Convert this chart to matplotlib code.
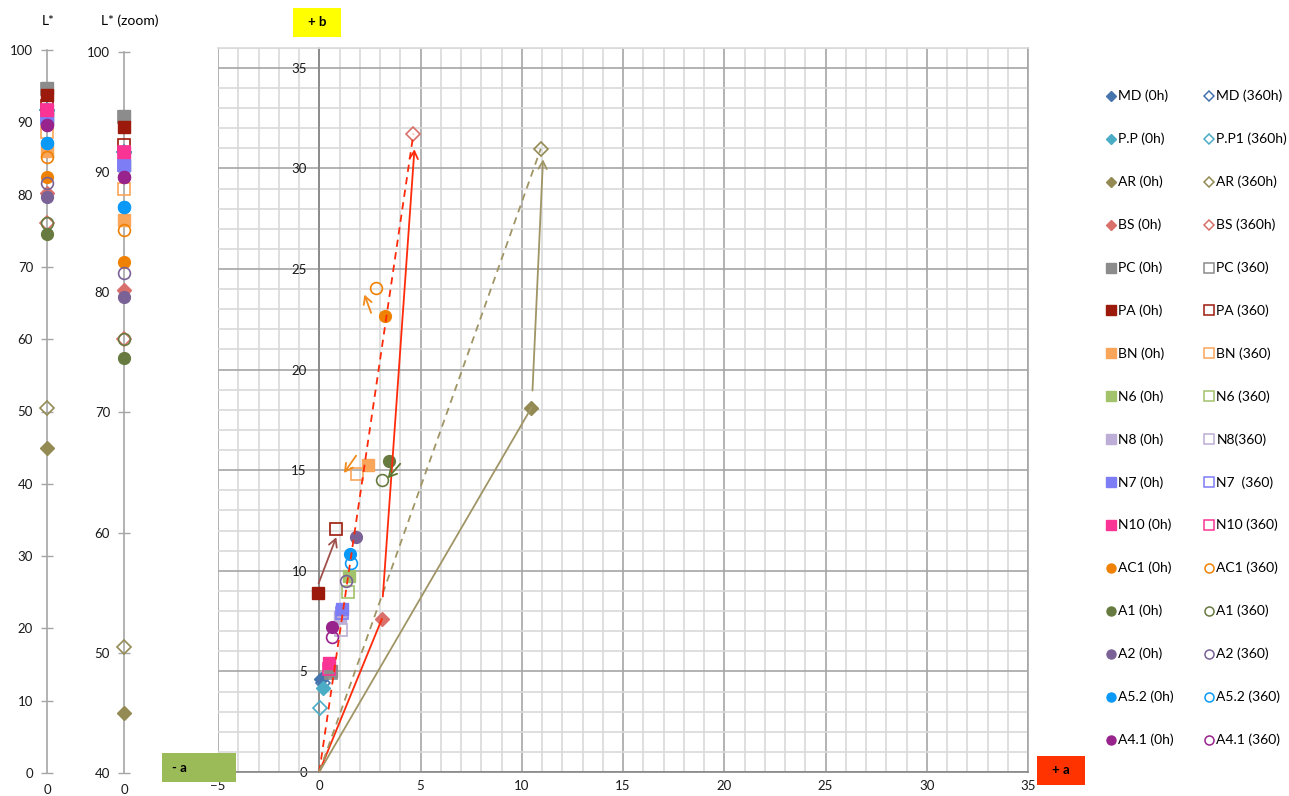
import matplotlib.pyplot as plt
from matplotlib.patches import Rectangle
from matplotlib.ticker import MultipleLocator

plt.rcParams['font.family'] = ['Lato', 'DejaVu Sans']

# sample series: a*, b*, L* at 0h and after 360h
labels_0h = ['MD (0h)', 'P.P (0h)', 'AR (0h)', 'BS (0h)', 'PC (0h)', 'PA (0h)', 'BN (0h)', 'N6 (0h)',
             'N8 (0h)', 'N7 (0h)', 'N10 (0h)', 'AC1 (0h)', 'A1 (0h)', 'A2 (0h)', 'A5.2 (0h)', 'A4.1 (0h)']
labels_360 = ['MD (360h)', 'P.P1 (360h)', 'AR (360h)', 'BS (360h)', 'PC (360)', 'PA (360)', 'BN (360)', 'N6 (360)',
              'N8(360)', 'N7  (360)', 'N10 (360)', 'AC1 (360)', 'A1 (360)', 'A2 (360)', 'A5.2 (360)', 'A4.1 (360)']
markers = ['D', 'D', 'D', 'D', 's', 's', 's', 's', 's', 's', 's', 'o', 'o', 'o', 'o', 'o']
colors = ['#4675AE', '#4BACC6', '#948A54', '#D9706B', '#8C8C8C', '#9C1A0B', '#F9A55A', '#A2C26B',
          '#BCAED6', '#7D7DF5', '#FA3494', '#EF8105', '#677A3F', '#7B6296', '#0B99F7', '#98238C']

a_0h = [0.10, 0.18, 10.48, 3.09, 0.60, -0.07, 2.43, 1.46, 1.00, 1.12, 0.50, 3.25, 3.46, 1.82, 1.54, 0.62]
b_0h = [4.60, 4.16, 18.11, 7.60, 5.00, 8.92, 15.27, 9.75, 7.70, 8.10, 5.40, 22.65, 15.44, 11.70, 10.85, 7.20]
a_360 = [0.20, 0.05, 10.94, 4.65, 0.60, 0.84, 1.87, 1.41, 1.05, 1.10, 0.50, 2.79, 3.10, 1.33, 1.58, 0.62]
b_360 = [4.40, 3.18, 30.98, 31.72, 4.90, 12.07, 14.79, 8.97, 7.05, 7.90, 5.10, 24.06, 14.53, 9.47, 10.40, 6.70]
L_0h = [91.7, 91.7, 45.0, 80.2, 94.7, 93.8, 86.0, 90.6, 90.6, 90.6, 91.7, 82.5, 74.5, 79.6, 87.1, 89.6]
L_360 = [91.7, 91.7, 50.5, 76.1, 94.6, 92.3, 88.6, 90.6, 90.6, 90.6, 91.7, 85.2, 76.1, 81.6, 87.1, 89.6]

# hand drawn shift arrows: (start, end, colour)
shift_arrows = [
    ((3.14, 8.72), (4.70, 30.95), '#FF2A0A'),
    ((10.53, 18.96), (11.05, 30.45), '#A09565'),
    ((-0.03, 9.38), (0.84, 11.67), '#A0504A'),
    ((2.56, 22.82), (2.23, 23.73), '#F08A1C'),
    ((1.82, 15.72), (1.22, 14.86), '#F08A1C'),
    ((4.00, 15.32), (3.38, 14.60), '#5E7A30'),
]

W, H = 1289, 796
fig = plt.figure(figsize=(W / 100, H / 100), dpi=100)


def draw_series(ax, xs0, ys0, xs1, ys1, ms):
    for i in range(len(labels_0h)):
        m, c = markers[i], colors[i]
        s = ms * 0.8 if m == 'D' else ms
        ax.plot(xs0[i], ys0[i], m, color=c, ms=s, mec=c, zorder=3, clip_on=False)
        ax.plot(xs1[i], ys1[i], m, mfc='none', mec=c, ms=s, mew=1.2, zorder=3, clip_on=False)


def strip(left_px, bottom_px, top_px, lo, hi):
    ax = fig.add_axes([(left_px - 12) / W, 1 - bottom_px / H, 24 / W, (bottom_px - top_px) / H])
    ax.set_xlim(-1, 1)
    ax.set_ylim(lo, hi)
    for s in ['top', 'right', 'bottom']:
        ax.spines[s].set_visible(False)
    ax.spines['left'].set_position(('data', 0))
    ax.spines['left'].set_color('#A6A6A6')
    ax.spines['left'].set_linewidth(1.2)
    ax.yaxis.set_major_locator(MultipleLocator(10))
    ax.tick_params(axis='y', direction='inout', length=8, color='#A6A6A6', width=1.0,
                   labelsize=9.5, pad=6, labelcolor='#1A1A1A')
    ax.set_xticks([0])
    ax.set_xticklabels(['0'])
    ax.tick_params(axis='x', length=0, labelsize=9.5, pad=8, labelcolor='#1A1A1A')
    ax.patch.set_alpha(0)
    draw_series(ax, [0] * 16, L_0h, [0] * 16, L_360, 8.5)
    return ax


strip(47, 773, 50, 0, 100)
strip(124, 773, 52, 40, 100)

# main a*-b* plane
ax = fig.add_axes([218 / W, 1 - 772 / H, 810 / W, (772 - 47.7) / H])
ax.set_xlim(-5, 35)
ax.set_ylim(0, 36)
ax.xaxis.set_major_locator(MultipleLocator(5))
ax.xaxis.set_minor_locator(MultipleLocator(1))
ax.set_yticks(range(0, 36, 5))
ax.yaxis.set_minor_locator(MultipleLocator(1))
ax.grid(which='minor', color='#D9D9D9', lw=1.2, zorder=0)
ax.grid(which='major', color='#A6A6A6', lw=1.2, zorder=0)
ax.set_axisbelow(True)
ax.spines['left'].set_position(('data', 0))
ax.spines['left'].set_color('#868686')
ax.spines['bottom'].set_color('#868686')
ax.spines['top'].set_color('#D9D9D9')
ax.spines['right'].set_color('#A6A6A6')
for s in ax.spines.values():
    s.set_linewidth(1.2)
ax.tick_params(which='both', length=0)
ax.tick_params(axis='y', labelsize=9.5, pad=9, labelcolor='#1A1A1A')
ax.tick_params(axis='x', labelsize=9.5, pad=6, labelcolor='#1A1A1A')

draw_series(ax, a_0h, b_0h, a_360, b_360, 8.5)

ar, bs = labels_0h.index('AR (0h)'), labels_0h.index('BS (0h)')
ax.plot([0, a_0h[bs]], [0, b_0h[bs]], color='#FF2A0A', lw=1.3, zorder=4)
ax.plot([0, a_360[bs]], [0, b_360[bs]], color='#FF2A0A', lw=1.3, ls=(0, (4, 3)), zorder=4)
ax.plot([0, a_0h[ar]], [0, b_0h[ar]], color='#A09565', lw=1.3, zorder=4)
ax.plot([0, a_360[ar]], [0, b_360[ar]], color='#A09565', lw=1.3, ls=(0, (4, 3)), zorder=4)
for start, end, c in shift_arrows:
    ax.annotate('', xy=end, xytext=start,
                arrowprops=dict(arrowstyle='->,head_length=0.55,head_width=0.3', color=c, lw=1.3,
                                shrinkA=0, shrinkB=0), zorder=5)

# overlay in pixel coordinates: titles, axis direction tags, legend
ov = fig.add_axes([0, 0, 1, 1])
ov.set_xlim(0, W)
ov.set_ylim(H, 0)
ov.axis('off')

ov.text(48, 21, 'L*', ha='center', va='center', fontsize=10)
ov.text(130, 21, 'L* (zoom)', ha='center', va='center', fontsize=10)

tags = [('+ b', 293, 8, 48, 29, '#FFFF00', 'center'),
        ('- a', 162, 753, 74, 29, '#9BBB59', 'left'),
        ('+ a', 1037, 756, 48, 29, '#FF3300', 'center')]
for txt, x, y, w, h, c, al in tags:
    ov.add_patch(Rectangle((x, y), w, h, color=c, lw=0))
    tx = x + w / 2 if al == 'center' else x + 10
    ov.text(tx, y + h / 2, txt, ha=al, va='center', fontsize=9.5, fontweight='bold')

row0, row_step = 95.7, 42.95
for i in range(len(labels_0h)):
    y = row0 + i * row_step
    m, c = markers[i], colors[i]
    s = 5.2 if m == 'D' else 6.5
    ov.plot(1110.5, y, m, color=c, ms=s, mec=c)
    ov.text(1118, y, labels_0h[i], va='center', fontsize=10)
    ov.plot(1209, y, m, mfc='none', mec=c, ms=s, mew=1.1)
    ov.text(1216.5, y, labels_360[i], va='center', fontsize=10)

fig.savefig('out.png', dpi=100)
